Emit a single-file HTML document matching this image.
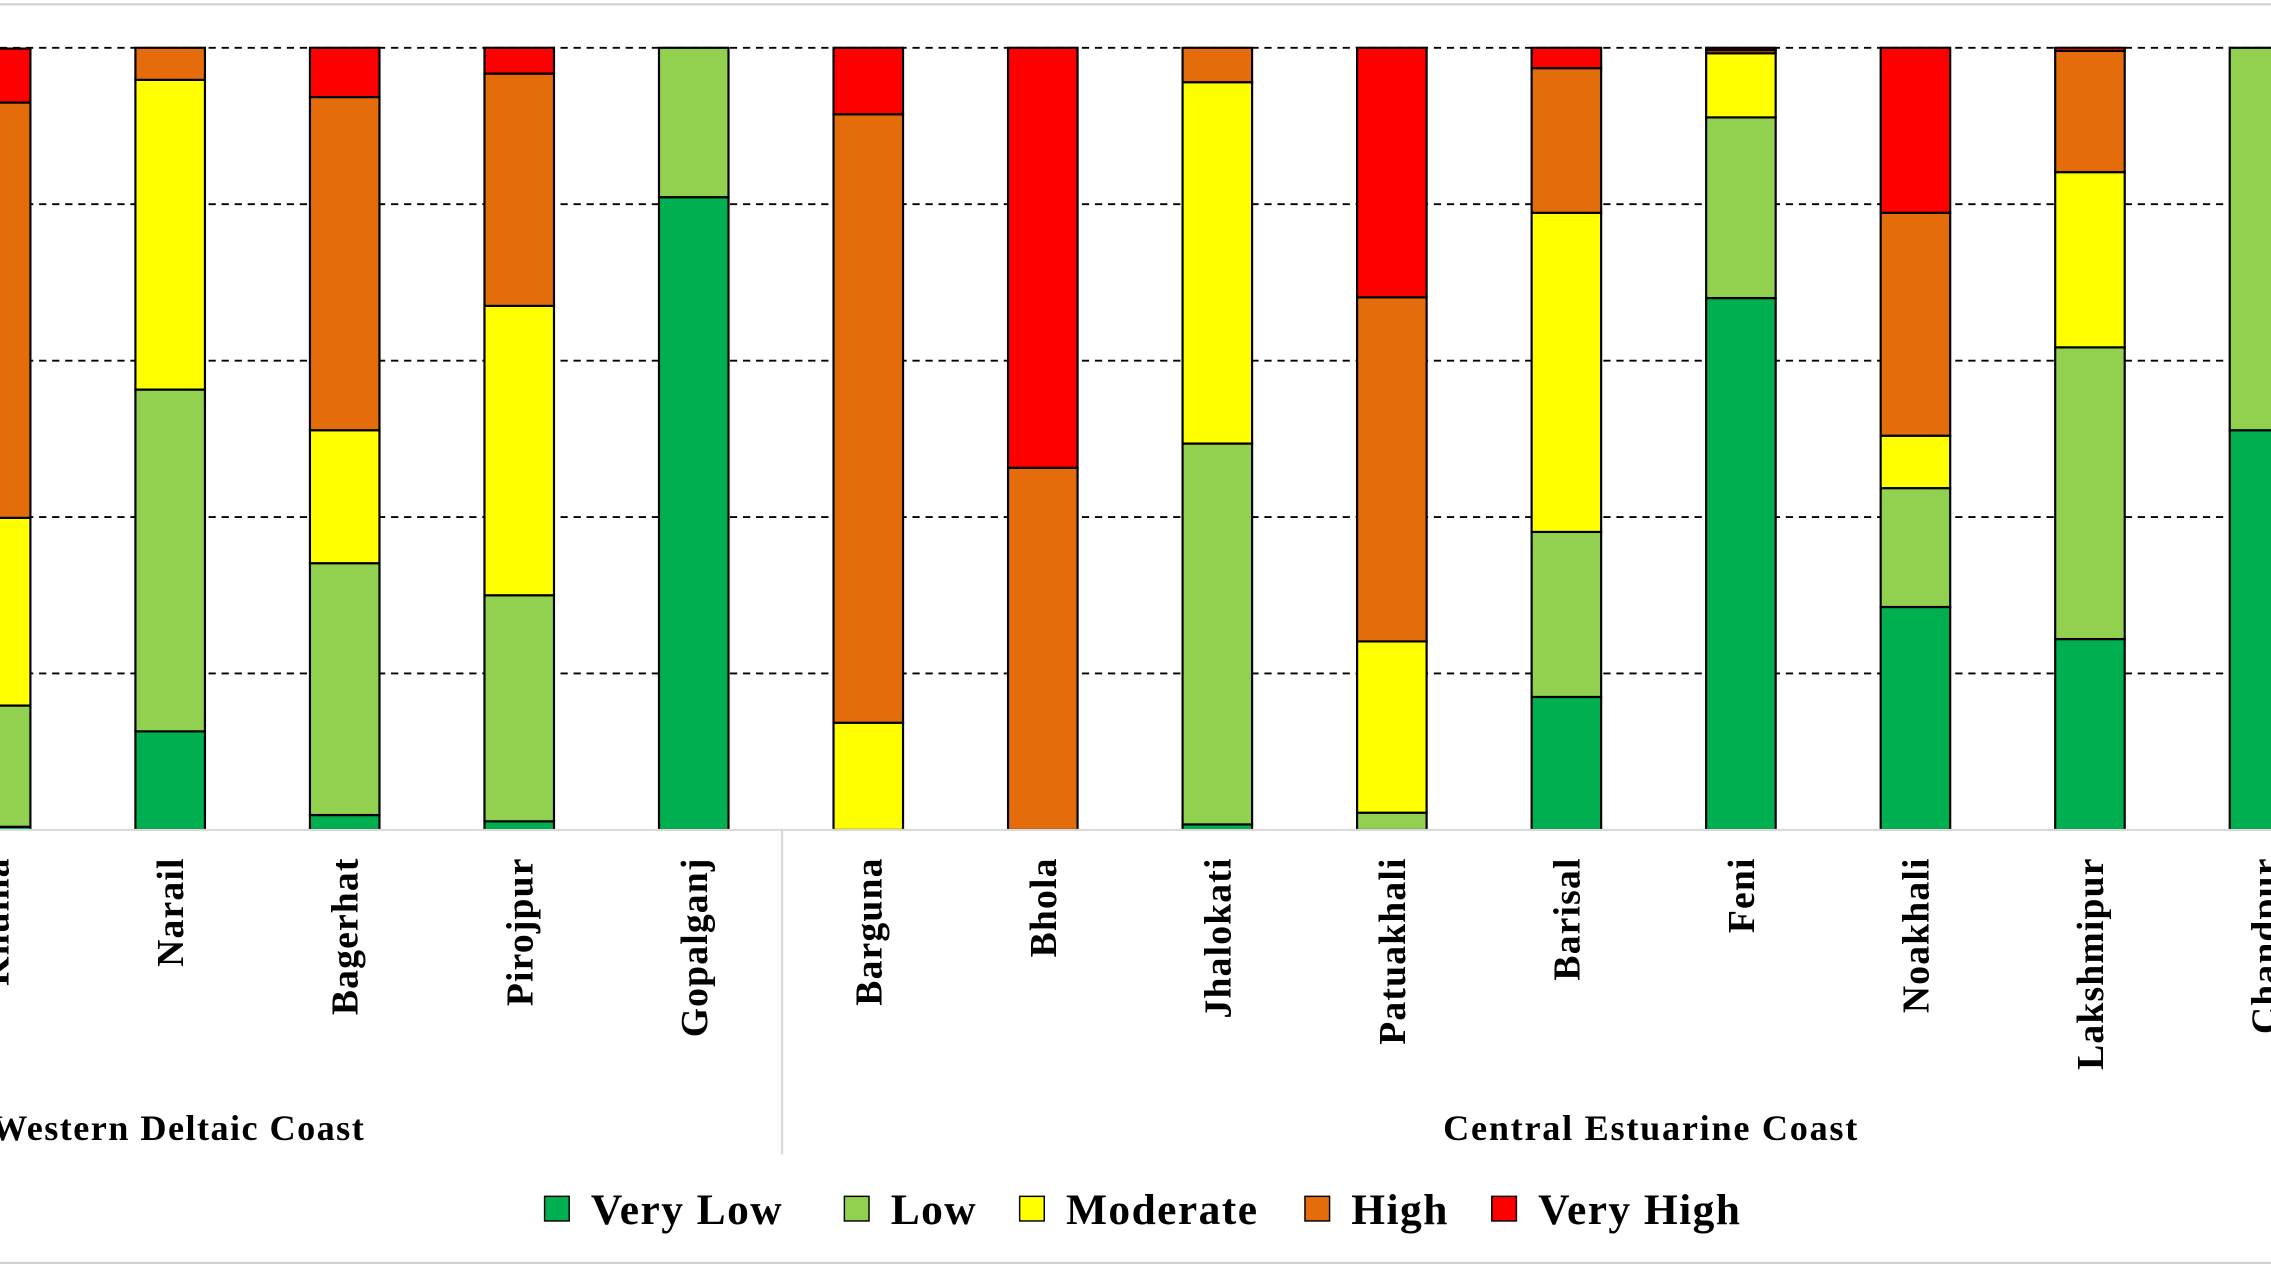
<!DOCTYPE html>
<html><head><meta charset="utf-8"><style>
html,body{margin:0;padding:0;background:#fff;}
svg{display:block;}
text{font-family:"Liberation Serif",serif;font-weight:bold;fill:#000;}
</style></head><body>
<svg id="chart" width="2271" height="1276" viewBox="0 0 1568 881" preserveAspectRatio="none" xmlns="http://www.w3.org/2000/svg">
<line x1="0" y1="3" x2="1568" y2="3" stroke="#d0d0d0" stroke-width="1.5"/>
<line x1="0" y1="872" x2="1568" y2="872" stroke="#d0d0d0" stroke-width="1.5"/>
<g id="grid"></g><g id="bars"></g><g id="labels"></g>
<line x1="0" y1="573" x2="1568" y2="573" stroke="#d9d9d9" stroke-width="1.5"/>
<line x1="540" y1="573" x2="540" y2="797" stroke="#d9d9d9" stroke-width="1.5"/>
<text x="123" y="787" font-size="25" letter-spacing="1" text-anchor="middle">Western Deltaic Coast</text>
<text x="1140" y="787" font-size="25" letter-spacing="1.2" text-anchor="middle">Central Estuarine Coast</text>
<g id="legend"></g>
</svg>
<script>
const districts=["Khulna","Narail","Bagerhat","Pirojpur","Gopalganj","Barguna","Bhola","Jhalokati","Patuakhali","Barisal","Feni","Noakhali","Lakshmipur","Chandpur"];
const veryLow=[0.4,12.6,1.9,1.1,80.9,0,0,0.7,0,17,68,28.5,24.4,51.1];
const low=[15.5,43.7,32.2,28.9,19.1,0,0,48.7,2.2,21.1,23.1,15.2,37.3,48.9];
const moderate=[24,39.6,17,37,0,13.7,0,46.2,21.9,40.8,8.2,6.7,22.4,0];
const high=[53.1,4.1,42.6,29.7,0,77.8,46.3,4.4,44,18.5,0.4,28.5,15.5,0];
const veryHigh=[6.9,0,6.3,3.3,0,8.5,53.7,0,31.9,2.6,0.3,21.1,0.4,0];
const seriesNames=["Very Low","Low","Moderate","High","Very High"];
const ticks=[0,20,40,60,80,100];
const colors=["#00b050","#92d050","#ffff00","#e46c0a","#ff0000"];
const NS="http://www.w3.org/2000/svg";
const y0=573,y1=33;
function yS(v){return y0-(y0-y1)*v/100;}
function xS(i){return -3+i*120.5;}
const bw=48;
const grid=document.getElementById('grid');
ticks.forEach(t=>{if(t===0)return;const l=document.createElementNS(NS,'line');
l.setAttribute('x1',0);l.setAttribute('x2',1568);l.setAttribute('y1',yS(t));l.setAttribute('y2',yS(t));
l.setAttribute('stroke','#000');l.setAttribute('stroke-width','1.3');l.setAttribute('stroke-dasharray','5,4');


grid.appendChild(l);});
const series=[veryLow,low,moderate,high,veryHigh];
const bars=document.getElementById('bars'),labels=document.getElementById('labels');
districts.forEach((d,i)=>{let acc=0;const cx=xS(i);
series.forEach((s,k)=>{const v=s[i];if(v<=0)return;const r=document.createElementNS(NS,'rect');
r.setAttribute('x',cx-bw/2);r.setAttribute('width',bw);r.setAttribute('y',yS(acc+v));r.setAttribute('height',yS(acc)-yS(acc+v));
r.setAttribute('fill',colors[k]);r.setAttribute('stroke','#000');r.setAttribute('stroke-width','1.5');


bars.appendChild(r);acc+=v;});
const t=document.createElementNS(NS,'text');t.textContent=d;t.setAttribute('font-size','26');t.setAttribute('letter-spacing','0.8');
t.setAttribute('text-anchor','end');t.setAttribute('transform','translate('+(cx+9)+',592) rotate(-90)');


labels.appendChild(t);});
const lg=document.getElementById('legend');
const lx=[376,583,704,901,1030];
seriesNames.forEach((n,k)=>{const r=document.createElementNS(NS,'rect');
r.setAttribute('x',lx[k]);r.setAttribute('y',826);r.setAttribute('width',17);r.setAttribute('height',17);
r.setAttribute('fill',colors[k]);r.setAttribute('stroke','#000');r.setAttribute('stroke-width','1');


lg.appendChild(r);
const t=document.createElementNS(NS,'text');t.textContent=n;t.setAttribute('x',lx[k]+32);t.setAttribute('y',845);t.setAttribute('font-size','30');t.setAttribute('letter-spacing','1');


lg.appendChild(t);});
</script>
</body></html>
